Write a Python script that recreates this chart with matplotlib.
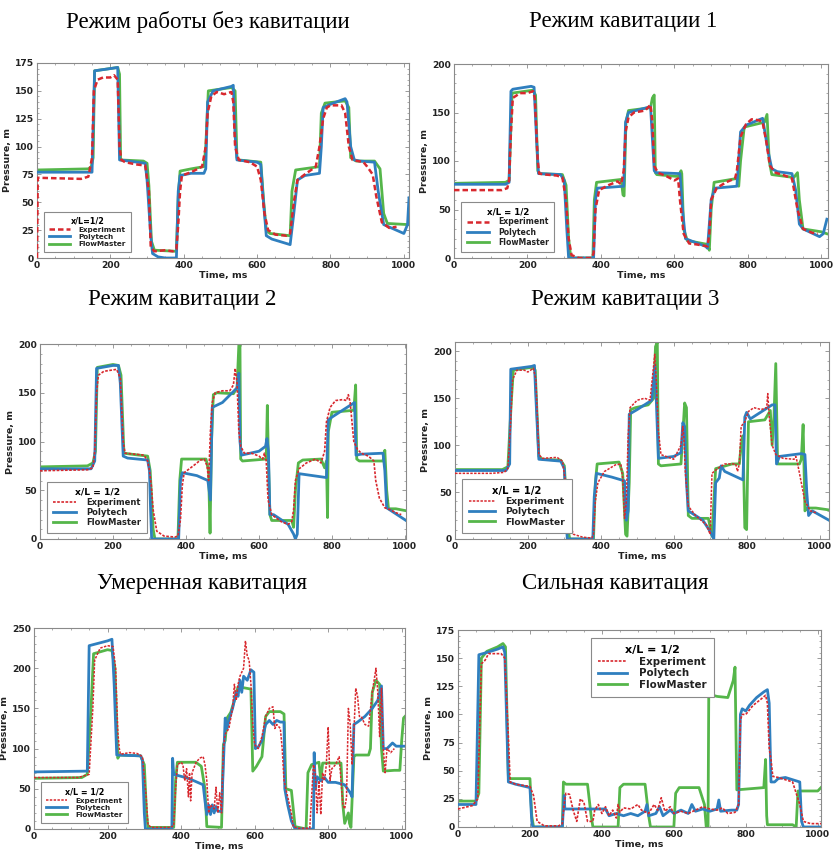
import matplotlib
matplotlib.use("Agg")
import matplotlib.pyplot as plt
from matplotlib.ticker import MultipleLocator, AutoMinorLocator

# ---------------- DATA (time ms, pressure m) ----------------
titles = ["Режим работы без кавитации", "Режим кавитации 1",
          "Режим кавитации 2", "Режим кавитации 3",
          "Умеренная кавитация", "Сильная кавитация"]
series_names = ["Experiment", "Polytech", "FlowMaster"]
legend_titles = ["x/L=1/2", "x/L = 1/2", "x/L = 1/2", "x/L = 1/2", "x/L = 1/2", "x/L = 1/2"]
y_max = [175, 200, 200, 210, 250, 175]
y_step = [25, 50, 50, 50, 50, 25]
x_max = [1014, 1018, 1003, 1026, 1009, 1009]
x_ticks = [0, 200, 400, 600, 800, 1000]

p1_exp = [(0,0),(2,72),(120,71),(140,73),(150,90),(155,150),(165,160),(180,162),(200,162),(210,164),(220,160),(225,100),(230,88),(240,86),(270,84),(295,83),(305,60),(310,10),(320,6),(350,7),(370,6),(380,8),(385,30),(390,60),(395,74),(420,77),(450,82),(460,100),(465,130),(475,145),(490,149),(510,147),(530,149),(535,140),(540,100),(550,88),(580,86),(600,82),(610,70),(620,40),(630,25),(650,21),(680,20),(690,22),(700,50),(710,70),(730,75),(760,82),(770,100),(780,125),(790,135),(800,137),(830,137),(840,130),(850,100),(860,88),(890,86),(900,82),(915,75),(925,55),(940,32),(960,27),(980,28)]
p1_poly = [(0,77),(150,77),(157,168),(200,170),(220,171),(225,88),(250,87),(295,85),(300,70),(310,20),(315,4),(330,1),(350,0),(380,0),(385,60),(390,74),(420,76),(455,76),(460,80),(465,140),(480,150),(530,154),(535,155),(540,110),(545,88),(600,86),(610,84),(615,60),(625,20),(640,17),(690,12),(700,40),(710,70),(730,74),(770,76),(775,100),(780,135),(800,138),(840,143),(845,140),(855,100),(865,88),(880,87),(920,86),(930,60),(945,30),(1000,22),(1010,30),(1014,54)]
p1_flow = [(0,79),(140,80),(148,82),(153,90),(157,168),(220,171),(225,165),(228,88),(290,87),(300,85),(305,65),(312,15),(320,7),(380,6),(385,55),(390,78),(420,80),(455,82),(460,100),(467,150),(530,153),(540,150),(545,90),(550,88),(610,86),(618,50),(625,25),(635,22),(690,20),(695,60),(705,79),(770,82),(775,130),(785,139),(840,141),(850,135),(855,90),(870,87),(920,87),(935,80),(945,40),(955,31),(1010,30)]

p2_exp = [(0,70),(130,70),(145,72),(150,80),(155,130),(160,165),(180,170),(200,170),(215,172),(220,165),(228,100),(232,87),(250,86),(280,85),(295,83),(305,60),(312,20),(320,3),(340,0),(375,0),(380,5),(385,50),(395,70),(420,75),(445,79),(455,76),(462,90),(467,130),(475,145),(490,150),(520,152),(535,158),(540,140),(545,95),(555,88),(580,84),(600,80),(610,82),(615,60),(625,25),(640,15),(660,14),(690,12),(695,25),(700,60),(715,72),(740,78),(765,82),(770,90),(780,125),(795,138),(810,143),(830,142),(840,140),(850,120),(860,95),(875,88),(900,85),(920,82),(935,50),(950,30),(975,26),(990,25)]
p2_poly = [(0,76),(140,76),(150,78),(155,172),(160,174),(210,177),(218,176),(225,120),(230,87),(290,86),(300,80),(307,30),(312,0),(380,0),(385,60),(390,72),(462,74),(467,140),(475,150),(535,156),(545,90),(550,88),(615,87),(622,50),(630,20),(650,17),(685,12),(690,10),(700,60),(710,72),(770,74),(780,130),(795,137),(840,144),(855,110),(865,92),(880,89),(920,87),(930,70),(940,35),(950,30),(995,22),(1005,25),(1015,40)]
p2_flow = [(0,77),(140,78),(150,80),(158,170),(215,173),(222,168),(228,90),(232,87),(295,86),(305,75),(312,20),(318,0),(378,0),(382,60),(388,78),(455,81),(460,65),(463,64),(468,140),(475,152),(535,155),(540,165),(545,168),(548,88),(552,86),(610,84),(618,90),(620,87),(625,30),(635,18),(690,14),(695,8),(700,50),(708,78),(770,82),(775,74),(780,100),(790,135),(845,140),(852,148),(858,100),(865,86),(925,83),(935,88),(940,60),(950,30),(1000,27),(1015,25)]

p3_exp = [(0,70),(130,71),(145,73),(150,90),(155,150),(160,168),(175,172),(210,174),(220,165),(228,100),(233,88),(260,87),(285,86),(295,80),(300,70),(305,55),(310,30),(320,8),(340,3),(370,2),(378,3),(385,20),(390,55),(395,68),(420,75),(440,81),(450,82),(458,75),(462,60),(467,110),(472,140),(480,150),(500,152),(520,152),(530,158),(535,175),(540,160),(545,110),(550,95),(560,88),(580,88),(600,85),(610,82),(615,88),(620,80),(625,40),(635,25),(660,18),(680,15),(690,18),(695,30),(700,60),(710,72),(730,78),(755,82),(770,78),(780,90),(785,120),(795,135),(810,142),(830,143),(840,142),(845,148),(850,140),(855,120),(860,100),(870,92),(880,88),(900,85),(915,80),(920,60),(930,42),(945,32),(960,30),(975,27),(990,25)]
p3_poly = [(0,72),(140,72),(150,80),(155,175),(200,178),(215,178),(220,160),(228,85),(240,83),(295,81),(300,70),(303,30),(306,0),(380,0),(385,60),(390,68),(430,65),(460,60),(467,40),(472,135),(500,140),(540,155),(545,170),(548,100),(552,86),(600,90),(618,95),(622,103),(626,90),(630,25),(640,25),(680,15),(695,5),(700,0),(705,5),(710,67),(785,63),(790,122),(800,125),(862,140),(866,86),(880,87),(940,88),(945,70),(950,32),(1003,19)]
p3_flow = [(0,74),(130,75),(145,78),(152,90),(157,176),(200,179),(215,178),(222,168),(230,88),(250,87),(295,85),(302,70),(310,10),(315,0),(378,0),(383,60),(388,82),(455,82),(462,70),(466,6),(470,100),(475,148),(485,150),(530,149),(540,155),(545,200),(548,200),(550,82),(555,80),(620,82),(623,137),(626,80),(630,25),(635,19),(690,19),(695,12),(700,50),(708,78),(720,81),(770,82),(780,73),(785,80),(788,22),(790,110),(800,130),(860,132),(865,158),(868,82),(875,80),(940,80),(945,91),(950,50),(955,31),(975,31),(1003,29)]

p4_exp = [(0,70),(100,70),(135,71),(145,75),(152,120),(158,170),(170,180),(190,180),(200,178),(215,182),(222,170),(230,90),(240,86),(280,87),(295,83),(305,55),(312,20),(325,5),(350,2),(375,1),(380,5),(385,40),(392,60),(410,72),(440,79),(455,80),(460,65),(465,22),(470,40),(475,110),(480,140),(500,148),(520,150),(535,148),(545,185),(548,197),(552,170),(558,115),(565,90),(600,85),(620,100),(625,120),(628,108),(632,70),(640,35),(660,25),(690,15),(700,5),(705,70),(720,75),(740,80),(770,80),(775,72),(780,80),(785,120),(795,125),(805,136),(820,140),(840,138),(855,140),(858,155),(862,130),(870,100),(880,90),(900,86),(930,85),(935,88),(940,80),(950,60),(960,40),(975,30),(990,28)]
p4_poly = [(0,73),(140,73),(150,80),(153,181),(210,184),(218,185),(222,150),(230,85),(290,83),(300,75),(305,20),(308,0),(378,0),(382,45),(388,70),(430,66),(465,62),(470,20),(475,30),(478,133),(500,138),(540,148),(548,185),(552,150),(558,86),(600,88),(620,92),(625,124),(630,120),(635,60),(640,30),(680,20),(700,8),(710,0),(715,60),(725,65),(730,78),(740,72),(790,63),(795,130),(800,135),(810,128),(870,143),(878,143),(882,80),(890,88),(950,91),(960,90),(965,50),(970,25),(980,30),(1026,20)]
p4_flow = [(0,74),(130,74),(145,77),(155,150),(160,180),(210,183),(220,180),(230,88),(240,85),(290,84),(300,78),(310,10),(315,0),(380,0),(385,60),(390,80),(450,82),(460,70),(468,5),(472,3),(478,60),(482,138),(495,140),(530,143),(545,150),(550,205),(555,210),(558,80),(565,78),(620,80),(630,145),(635,140),(640,25),(650,22),(695,22),(705,3),(715,75),(760,80),(780,80),(785,100),(790,110),(795,12),(800,10),(805,125),(850,127),(865,137),(870,100),(875,130),(880,187),(885,80),(945,80),(950,85),(955,122),(960,30),(965,33),(990,33),(1026,31)]

p5_exp = [(0,64),(120,64),(150,68),(160,150),(165,210),(180,225),(200,228),(215,227),(222,200),(228,120),(232,100),(235,93),(260,95),(280,94),(295,90),(305,40),(310,5),(320,2),(370,2),(380,4),(385,50),(390,80),(400,83),(405,80),(410,60),(415,75),(420,40),(423,70),(426,35),(430,70),(440,82),(450,88),(460,90),(465,80),(470,60),(475,20),(480,30),(490,25),(495,52),(500,20),(505,45),(510,20),(515,100),(520,118),(530,125),(540,150),(545,180),(550,160),(555,180),(560,190),(570,200),(575,234),(580,215),(585,210),(590,180),(595,130),(600,105),(610,100),(620,115),(630,140),(640,150),(650,152),(655,125),(660,130),(670,125),(675,100),(680,60),(690,40),(700,20),(705,3),(720,1),(750,1),(755,40),(760,80),(765,70),(770,20),(775,60),(780,18),(785,70),(790,60),(795,80),(800,127),(805,60),(810,75),(820,80),(830,90),(835,60),(840,30),(845,25),(850,40),(855,150),(860,130),(865,80),(870,120),(875,175),(880,165),(885,140),(890,140),(900,130),(910,128),(920,170),(930,200),(935,170),(940,115),(945,175),(950,100),(955,70),(960,100),(970,95),(980,100)]
p5_poly = [(0,71),(145,72),(150,228),(200,234),(212,236),(218,180),(225,92),(290,91),(295,85),(300,20),(303,0),(375,0),(377,88),(380,68),(420,63),(460,55),(465,35),(470,18),(475,30),(480,18),(485,30),(490,20),(495,28),(500,22),(510,22),(515,80),(520,138),(525,125),(530,135),(540,150),(550,170),(555,165),(560,185),(565,170),(570,190),(580,185),(590,198),(598,195),(602,100),(610,102),(620,110),(630,130),(640,135),(650,130),(660,135),(670,133),(680,133),(682,50),(690,30),(700,10),(710,0),(760,0),(762,95),(765,50),(770,65),(780,60),(790,64),(800,58),(820,58),(845,55),(860,45),(865,40),(870,130),(880,133),(900,140),(920,150),(935,160),(945,178),(950,100),(960,100),(975,107),(985,103),(1009,103)]
p5_flow = [(0,63),(130,64),(145,68),(155,150),(162,218),(200,223),(212,222),(220,200),(228,88),(232,92),(290,91),(300,80),(306,20),(310,2),(380,2),(385,60),(390,83),(440,83),(455,78),(465,50),(470,3),(510,2),(515,105),(520,110),(525,138),(535,145),(545,160),(555,177),(590,174),(595,72),(605,78),(620,90),(630,140),(640,146),(670,146),(680,143),(685,50),(700,48),(710,3),(740,0),(745,70),(755,80),(775,83),(780,60),(785,82),(835,82),(840,30),(845,7),(855,20),(858,7),(862,2),(870,90),(875,92),(910,92),(915,100),(920,170),(930,185),(940,180),(945,100),(950,72),(980,73),(995,73),(1000,110),(1005,138),(1009,140)]

p6_exp = [(0,16),(40,19),(55,25),(65,145),(75,148),(85,154),(120,154),(130,150),(140,80),(145,40),(160,38),(200,36),(210,28),(220,5),(240,1),(280,1),(290,3),(295,20),(300,30),(310,29),(320,15),(330,5),(340,25),(350,22),(360,5),(375,5),(380,15),(390,20),(400,12),(410,18),(420,10),(430,15),(440,8),(445,20),(450,13),(460,17),(480,16),(500,20),(510,15),(530,12),(545,20),(555,15),(565,26),(575,14),(590,18),(600,12),(620,14),(640,12),(660,15),(680,18),(700,16),(720,15),(735,17),(750,12),(770,13),(780,20),(785,95),(790,100),(800,100),(820,108),(840,113),(855,117),(860,110),(865,70),(870,60),(875,45),(890,44),(910,42),(930,40),(950,20),(960,5),(980,3),(1009,3)]
p6_poly = [(0,20),(50,20),(58,153),(80,155),(110,158),(125,160),(130,155),(140,40),(160,38),(200,35),(205,5),(208,0),(290,0),(295,28),(297,16),(410,16),(420,10),(440,12),(460,10),(480,12),(500,10),(520,14),(525,20),(530,10),(550,12),(560,18),(570,10),(590,15),(600,12),(620,15),(640,12),(650,20),(660,14),(680,16),(700,14),(720,16),(725,24),(730,14),(760,15),(775,15),(780,20),(785,100),(790,105),(800,103),(810,108),(830,115),(850,120),(860,122),(865,110),(870,40),(880,40),(890,43),(910,44),(930,42),(950,40),(955,5),(960,0),(1009,0)]
p6_flow = [(0,23),(50,23),(58,30),(65,150),(80,156),(110,160),(125,163),(132,160),(140,45),(145,43),(200,43),(205,10),(210,0),(290,0),(293,40),(300,38),(360,38),(370,10),(375,0),(445,0),(450,35),(460,38),(520,38),(530,10),(535,0),(600,0),(605,30),(615,35),(670,35),(685,20),(690,0),(695,0),(697,118),(720,116),(750,115),(765,130),(770,142),(775,33),(850,35),(855,60),(858,10),(860,2),(930,2),(940,0),(945,32),(1000,32),(1009,35)]

panels = [(p1_exp, p1_poly, p1_flow), (p2_exp, p2_poly, p2_flow),
          (p3_exp, p3_poly, p3_flow), (p4_exp, p4_poly, p4_flow),
          (p5_exp, p5_poly, p5_flow), (p6_exp, p6_poly, p6_flow)]

# ---------------- STYLE / LAYOUT ----------------
W, H = 833, 851
fig = plt.figure(figsize=(W / 100, H / 100), dpi=100)
fig.patch.set_facecolor("white")

boxes = [(37, 409, 63, 258), (454, 828, 64, 258),
         (40, 406, 344, 539), (455, 829, 342, 539),
         (34, 405, 628, 829), (458, 821, 630, 827)]
title_pos = [(208, 22), (623, 22), (182, 300), (625, 300), (202, 583), (615, 583)]

colors = {"Experiment": "#d8282e", "Polytech": "#2f7fbf", "FlowMaster": "#55b64a"}
exp_lw = [1.8, 1.8, 1.2, 1.1, 1.1, 1.2]
exp_dash = [(2.2, 1.2), (2.2, 1.2), (1.6, 0.9), (1.6, 0.9), (1.6, 0.9), (1.6, 0.9)]
leg_anchor = [(0.02, 0.03), (0.02, 0.03), (0.02, 0.03), (0.02, 0.03), (0.02, 0.03), (0.366, 0.96)]
leg_loc = ["lower left"] * 5 + ["upper left"]
leg_fs = [5.2, 5.6, 6.0, 6.6, 5.2, 7.4]
tick_fs = 6.6
frame_col = "#8a8a8a"

for i, (l, r, t, b) in enumerate(boxes):
    ax = fig.add_axes([l / W, 1 - b / H, (r - l) / W, (b - t) / H])
    exp, poly, flow = panels[i]
    ft, fv = zip(*flow)
    pt, pv = zip(*poly)
    et, ev = zip(*exp)
    lf, = ax.plot(ft, fv, color=colors["FlowMaster"], lw=2.0, zorder=2, solid_joinstyle="round")
    lp, = ax.plot(pt, pv, color=colors["Polytech"], lw=2.0, zorder=3, solid_joinstyle="round")
    le, = ax.plot(et, ev, color=colors["Experiment"], lw=exp_lw[i], zorder=4,
                  linestyle=(0, exp_dash[i]))
    ax.set_xlim(0, x_max[i])
    ax.set_ylim(0, y_max[i])
    ax.set_xticks(x_ticks)
    ax.yaxis.set_major_locator(MultipleLocator(y_step[i]))
    ax.xaxis.set_minor_locator(AutoMinorLocator(4))
    ax.yaxis.set_minor_locator(AutoMinorLocator(5))
    ax.tick_params(which="both", direction="in", top=True, right=True,
                   colors=frame_col, labelcolor="#222222", labelsize=tick_fs, pad=2)
    ax.tick_params(which="major", length=3, width=0.6)
    ax.tick_params(which="minor", length=1.5, width=0.5)
    for lab in ax.get_xticklabels() + ax.get_yticklabels():
        lab.set_fontweight("bold")
    for sp in ax.spines.values():
        sp.set_color(frame_col)
        sp.set_linewidth(0.8)
    ax.set_xlabel("Time, ms", fontsize=6.8, fontweight="bold", labelpad=1, color="#222222")
    ax.set_ylabel("Pressure, m", fontsize=6.8, fontweight="bold", labelpad=2, color="#222222")
    leg = ax.legend([le, lp, lf], series_names, title=legend_titles[i],
                    loc=leg_loc[i], bbox_to_anchor=leg_anchor[i], borderaxespad=0,
                    fancybox=False, framealpha=1, edgecolor="#8a8a8a",
                    prop={"size": leg_fs[i], "weight": "bold"},
                    title_fontproperties={"size": leg_fs[i] + 0.6, "weight": "bold"},
                    handlelength=2.8, handletextpad=1.2, labelspacing=0.15,
                    borderpad=0.7, alignment="center")
    leg.get_frame().set_linewidth(0.8)
    for txt in leg.get_texts():
        txt.set_color("#222222")
    fig.text(title_pos[i][0] / W, 1 - title_pos[i][1] / H, titles[i],
             ha="center", va="center", fontsize=16.5, family="Liberation Serif")

fig.savefig("out.png", dpi=100)
